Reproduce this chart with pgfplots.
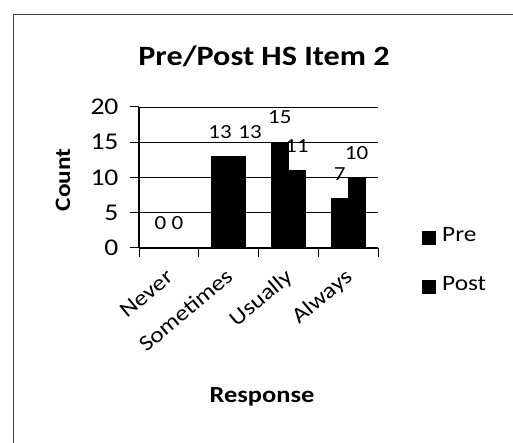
\documentclass[border=0pt]{standalone}
\usepackage{fontspec}
\setmainfont{Carlito}[FakeStretch=1.15]
\usepackage{pgfplots}
\pgfplotsset{compat=1.18}

\begin{document}
\begin{tikzpicture}[
    catlabel/.style={rotate=40, anchor=east, inner sep=0pt, text height=15bp, text depth=4bp,
        font=\fontsize{22bp}{26bp}\selectfont},
]
\path[use as bounding box] (0bp,0bp) rectangle (513bp,443bp);
% chart frame (only left and top edges are inside the scan)
\draw[line width=1bp, black!75] (13bp,0bp) -- (13bp,428bp) -- (513bp,428bp);
\node[font=\fontsize{28bp}{33bp}\selectfont\bfseries] at (264bp,387bp) {Pre/Post HS Item 2};
\node[font=\fontsize{22bp}{26bp}\selectfont\bfseries, rotate=90] at (63bp,263bp) {Count};
\node[font=\fontsize{23bp}{27bp}\selectfont\bfseries] at (262bp,46bp) {Response};

\begin{axis}[
    at={(139bp,195bp)}, anchor=south west,
    scale only axis, width=239bp, height=141bp,
    xmin=-0.5, xmax=3.5, ymin=0, ymax=20, clip=false,
    axis x line=bottom, axis y line=left,
    axis line style={-, line width=1.2bp},
    tick align=outside, tick style={black, line width=1bp},
    major tick length=9bp,
    xtick={-0.5,0.5,1.5,2.5,3.5}, xticklabels={},
    ytick={0,5,10,15,20},
    ymajorgrids, grid style={black, line width=0.8bp},
    yticklabel style={font=\fontsize{24bp}{28bp}\selectfont, xshift=-8bp},
    /pgf/number format/assume math mode=true,
    ybar=0pt, bar width=17bp,
    nodes near coords,
    nodes near coords style={font=\fontsize{20bp}{24bp}\selectfont, anchor=south, inner sep=0pt, yshift=18bp},
    legend cell align=left,
    legend style={at={(1.184,-0.082)}, anchor=west, draw=none, fill=none,
        inner sep=0pt, outer sep=0pt,
        font=\fontsize{22bp}{26bp}\selectfont, row sep=27bp,
        nodes={inner sep=0pt, text height=17bp, text depth=5bp}},
    legend image code/.code={\fill (0bp,-9bp) rectangle (13bp,4bp); \path[draw=none, fill=none] (13bp,0bp) -- (20bp,0bp);},
]
\addplot[fill=black, draw=black] coordinates {(0,0) (1,13) (2,15) (3,7)};
\addlegendentry{Pre}
\addplot[fill=black, draw=black, coordinate style/.condition={\coordindex==1}{xshift=13bp}] coordinates {(0,0) (1,13) (2,11) (3,10)};
\addlegendentry{Post}
% category names under the x axis
\node[catlabel] at ([xshift=2bp,yshift=-27bp]axis cs:0,0) {Never};
\node[catlabel] at ([xshift=2bp,yshift=-27bp]axis cs:1,0) {Sometimes};
\node[catlabel] at ([xshift=2bp,yshift=-27bp]axis cs:2,0) {Usually};
\node[catlabel] at ([xshift=2bp,yshift=-27bp]axis cs:3,0) {Always};
\end{axis}
\end{tikzpicture}
\end{document}
